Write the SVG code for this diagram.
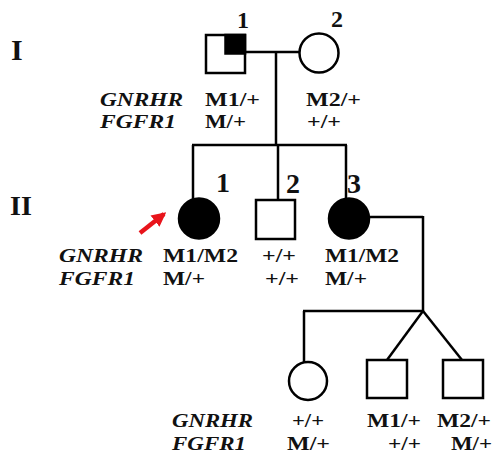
<svg xmlns="http://www.w3.org/2000/svg" width="496" height="459" viewBox="0 0 496 459">
<defs>
<style>
.t{font-family:"Liberation Serif","Times New Roman",serif;font-weight:bold;font-size:19.8px;fill:#111}
.g{font-style:italic}
.num{font-family:"Liberation Serif","Times New Roman",serif;font-weight:bold;fill:#111}
.ln{stroke:#000;stroke-width:2.5;fill:none}
.sh{stroke:#000;stroke-width:2.5;fill:#fff}
.af{stroke:#000;stroke-width:2.5;fill:#000}
</style>
<marker id="ah" viewBox="0 0 10 10" refX="8" refY="5" markerWidth="3.2" markerHeight="3.2" orient="auto" markerUnits="strokeWidth">
<path d="M0,0 L10,5 L0,10 z" fill="#e8141b"/>
</marker>
</defs>
<rect width="496" height="459" fill="#fff"/>
<g id="connectors">
<line class="ln" x1="245" y1="52" x2="299.5" y2="52"/>
<line class="ln" x1="276" y1="52" x2="276" y2="145"/>
<line class="ln" x1="192" y1="145" x2="347" y2="145"/>
<line class="ln" x1="193" y1="145" x2="193" y2="199"/>
<line class="ln" x1="278" y1="145" x2="278" y2="200"/>
<line class="ln" x1="346" y1="145" x2="346" y2="198"/>
<line class="ln" x1="369.5" y1="217" x2="423" y2="217"/>
<line class="ln" x1="423" y1="216" x2="423" y2="311"/>
<line class="ln" x1="303" y1="311" x2="423" y2="311"/>
<line class="ln" x1="304" y1="311" x2="304" y2="362"/>
<line class="ln" x1="423" y1="311" x2="387" y2="360"/>
<line class="ln" x1="423" y1="311" x2="462" y2="360"/>
<line x1="140" y1="233" x2="164" y2="214" stroke="#e8141b" stroke-width="4.5" marker-end="url(#ah)"/>
</g>
<g id="gen-labels">
<text class="num" x="11" y="60" font-size="30">I</text>
<text class="num" x="10" y="215" font-size="28">II</text>
</g>
<g id="I-1">
<rect class="sh" x="206" y="35" width="39" height="38"/>
<rect x="225.5" y="35" width="19.5" height="18.5" fill="#000" stroke="#000" stroke-width="2.5"/>
<text class="num" x="237" y="28" font-size="24">1</text>
<text class="t" x="205" y="106" textLength="55" lengthAdjust="spacingAndGlyphs">M1/+</text>
<text class="t" x="205" y="128" textLength="41" lengthAdjust="spacingAndGlyphs">M/+</text>
</g>
<g id="I-2">
<circle class="sh" cx="319" cy="53" r="19.5"/>
<text class="num" x="331" y="27" font-size="24">2</text>
<text class="t" x="306" y="106" textLength="55" lengthAdjust="spacingAndGlyphs">M2/+</text>
<text class="t" x="307" y="128" textLength="34" lengthAdjust="spacingAndGlyphs">+/+</text>
</g>
<g id="genes-I">
<text class="t g" x="100" y="106" textLength="83" lengthAdjust="spacingAndGlyphs">GNRHR</text>
<text class="t g" x="100" y="128" textLength="76" lengthAdjust="spacingAndGlyphs">FGFR1</text>
</g>
<g id="II-1">
<circle class="af" cx="199" cy="218.5" r="20"/>
<text class="num" x="216" y="192" font-size="28">1</text>
<text class="t" x="163" y="262" textLength="75" lengthAdjust="spacingAndGlyphs">M1/M2</text>
<text class="t" x="163" y="285" textLength="42" lengthAdjust="spacingAndGlyphs">M/+</text>
</g>
<g id="II-2">
<rect class="sh" x="256" y="200" width="39" height="39"/>
<text class="num" x="286" y="193" font-size="28">2</text>
<text class="t" x="262" y="262" textLength="34" lengthAdjust="spacingAndGlyphs">+/+</text>
<text class="t" x="265" y="285" textLength="34" lengthAdjust="spacingAndGlyphs">+/+</text>
</g>
<g id="II-3">
<circle class="af" cx="349" cy="218.5" r="20"/>
<text class="num" x="347" y="193" font-size="28">3</text>
<text class="t" x="325" y="262" textLength="74" lengthAdjust="spacingAndGlyphs">M1/M2</text>
<text class="t" x="325" y="285" textLength="42" lengthAdjust="spacingAndGlyphs">M/+</text>
</g>
<g id="genes-II">
<text class="t g" x="59" y="262" textLength="84" lengthAdjust="spacingAndGlyphs">GNRHR</text>
<text class="t g" x="59" y="285" textLength="76" lengthAdjust="spacingAndGlyphs">FGFR1</text>
</g>
<g id="III-1">
<circle class="sh" cx="308" cy="381" r="19"/>
<text class="t" x="292" y="427" textLength="32" lengthAdjust="spacingAndGlyphs">+/+</text>
<text class="t" x="287" y="450" textLength="43" lengthAdjust="spacingAndGlyphs">M/+</text>
</g>
<g id="III-2">
<rect class="sh" x="367" y="360" width="40" height="38"/>
<text class="t" x="367" y="427" textLength="54" lengthAdjust="spacingAndGlyphs">M1/+</text>
<text class="t" x="388" y="450" textLength="33" lengthAdjust="spacingAndGlyphs">+/+</text>
</g>
<g id="III-3">
<rect class="sh" x="443" y="360" width="40" height="38"/>
<text class="t" x="437" y="427" textLength="54" lengthAdjust="spacingAndGlyphs">M2/+</text>
<text class="t" x="451" y="450" textLength="41" lengthAdjust="spacingAndGlyphs">M/+</text>
</g>
<g id="genes-III">
<text class="t g" x="172" y="427" textLength="81" lengthAdjust="spacingAndGlyphs">GNRHR</text>
<text class="t g" x="172" y="450" textLength="74" lengthAdjust="spacingAndGlyphs">FGFR1</text>
</g>
</svg>
